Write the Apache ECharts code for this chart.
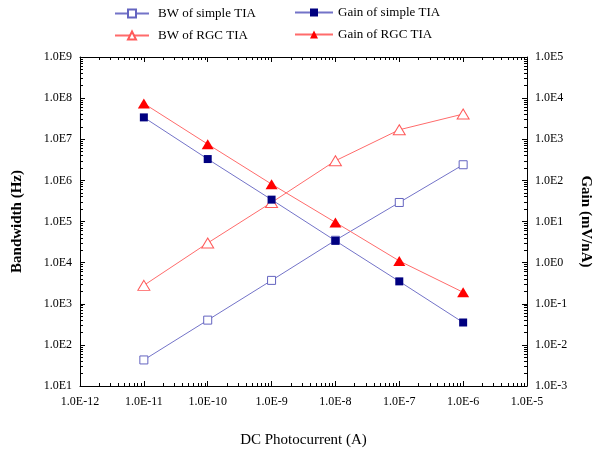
<!DOCTYPE html>
<html>
<head>
<meta charset="utf-8">
<script src="https://cdn.jsdelivr.net/npm/echarts@6/dist/echarts.min.js"></script>
<style>
    html, body {margin: 0; padding: 0; background: #fff;}
    #chart {width: 597px; height: 453px;}
</style>
</head>
<body>
<div id="chart"></div>
<script>
// DC photocurrent (A)
let current = [1e-11, 1e-10, 1e-9, 1e-8, 1e-7, 1e-6];
// bandwidth (Hz), left axis
let bwSimple = [43, 400, 3700, 35000, 290000, 2.4e6];
let bwRgc = [2800, 30000, 2.9e5, 3.0e6, 1.7e7, 4.1e7];
// gain (mV/nA), right axis
let gainSimple = [3400, 330, 34, 3.4, 0.35, 0.035];
let gainRgc = [7400, 760, 81, 9.5, 1.1, 0.19];

let font = '"Liberation Serif", "Times New Roman", serif';

let sciLabel = function (v) {
    return '1.0E' + Math.round(Math.log10(v));
};
// minor tick positions (exponent space) between two decades
let minorTicks = function (lo, hi) {
    let out = [];
    for (let n = lo; n < hi; n++) {
        for (let k = 2; k <= 9; k++) out.push(n + Math.log10(k));
    }
    return out;
};

let pairs = function (ys) {
    return current.map(function (x, i) { return [x, ys[i]]; });
};

let chart = echarts.init(document.getElementById('chart'));

let blueLine = '#7373c8';
let redLine = '#ff6b6b';

let majorTick = {show: true, inside: true, length: 5, lineStyle: {color: '#000', width: 1}};
let gridBox = {left: 80, right: 70, top: 57, bottom: 67, outerBoundsMode: 'none', containLabel: false};

// overlay axes (second grid) that only carry the short log minor ticks
let minorAxis = function (position, lo, hi) {
    return {
        type: 'value', gridIndex: 1, min: lo, max: hi, position: position,
        axisLine: {show: false, onZero: false}, axisLabel: {show: false}, splitLine: {show: false},
        axisTick: {show: true, inside: true, length: 3, customValues: minorTicks(lo, hi),
            lineStyle: {color: '#000', width: 1}}
    };
};

chart.setOption({
    animation: false,
    textStyle: {fontFamily: font},
    grid: [gridBox, Object.assign({}, gridBox)],
    legend: [
        {
            orient: 'vertical', left: 109, top: 2, itemWidth: 34, itemHeight: 10, itemGap: 9,
            data: ['BW of simple TIA', 'BW of RGC TIA'],
            textStyle: {fontFamily: font, fontSize: 13, color: '#000', padding: [0, 0, 0, 4]}
        },
        {
            orient: 'vertical', left: 289, top: 1, itemWidth: 38, itemHeight: 10, itemGap: 9,
            data: ['Gain of simple TIA', 'Gain of RGC TIA'],
            textStyle: {fontFamily: font, fontSize: 13, color: '#000'}
        }
    ],
    xAxis: [
        {
            type: 'log', logBase: 10, min: 1e-12, max: 1e-5, position: 'bottom',
            name: 'DC Photocurrent (A)', nameLocation: 'middle', nameGap: 47,
            nameTextStyle: {fontFamily: font, fontSize: 15, color: '#000'},
            axisLine: {onZero: false, lineStyle: {color: '#000', width: 1}},
            axisTick: majorTick,
            axisLabel: {formatter: sciLabel, fontFamily: font, fontSize: 12, color: '#000', margin: 10},
            splitLine: {show: false}
        },
        {
            type: 'log', logBase: 10, min: 1e-12, max: 1e-5, position: 'top',
            axisLine: {onZero: false, lineStyle: {color: '#000', width: 1}},
            axisTick: majorTick, axisLabel: {show: false}, splitLine: {show: false}
        },
        minorAxis('bottom', -12, -5),
        minorAxis('top', -12, -5)
    ],
    yAxis: [
        {
            type: 'log', logBase: 10, min: 1e1, max: 1e9, position: 'left',
            name: 'Bandwidth (Hz)', nameLocation: 'middle', nameGap: 55,
            nameTextStyle: {fontFamily: font, fontSize: 15, fontWeight: 'bold', color: '#000'},
            axisLine: {show: true, onZero: false, lineStyle: {color: '#000', width: 1}},
            axisTick: majorTick,
            axisLabel: {formatter: sciLabel, fontFamily: font, fontSize: 12, color: '#000', margin: 8},
            splitLine: {show: false}
        },
        {
            type: 'log', logBase: 10, min: 1e-3, max: 1e5, position: 'right',
            name: 'Gain (mV/nA)', nameLocation: 'middle', nameGap: 49, nameRotate: -90,
            nameTextStyle: {fontFamily: font, fontSize: 15, fontWeight: 'bold', color: '#000'},
            axisLine: {show: true, onZero: false, lineStyle: {color: '#000', width: 1}},
            axisTick: majorTick,
            axisLabel: {formatter: sciLabel, fontFamily: font, fontSize: 12, color: '#000', margin: 8},
            splitLine: {show: false}
        },
        minorAxis('left', 1, 9),
        minorAxis('right', -3, 5)
    ],
    series: [
        {
            name: 'BW of simple TIA', type: 'line', xAxisIndex: 0, yAxisIndex: 0,
            data: pairs(bwSimple), symbol: 'rect', symbolSize: 8,
            lineStyle: {color: blueLine, width: 1},
            itemStyle: {color: '#fff', borderColor: '#6464c0', borderWidth: 1}
        },
        {
            name: 'BW of RGC TIA', type: 'line', xAxisIndex: 0, yAxisIndex: 0,
            data: pairs(bwRgc), symbol: 'triangle', symbolSize: [12, 10],
            lineStyle: {color: redLine, width: 1},
            itemStyle: {color: '#fff', borderColor: '#ff5a5a', borderWidth: 1}
        },
        {
            name: 'Gain of simple TIA', type: 'line', xAxisIndex: 0, yAxisIndex: 1,
            data: pairs(gainSimple), symbol: 'rect', symbolSize: 8,
            lineStyle: {color: blueLine, width: 1},
            itemStyle: {color: '#000080'}
        },
        {
            name: 'Gain of RGC TIA', type: 'line', xAxisIndex: 0, yAxisIndex: 1,
            data: pairs(gainRgc), symbol: 'triangle', symbolSize: [12, 10],
            lineStyle: {color: redLine, width: 1},
            itemStyle: {color: '#ff0000'}
        }
    ]
});
</script>
</body>
</html>
